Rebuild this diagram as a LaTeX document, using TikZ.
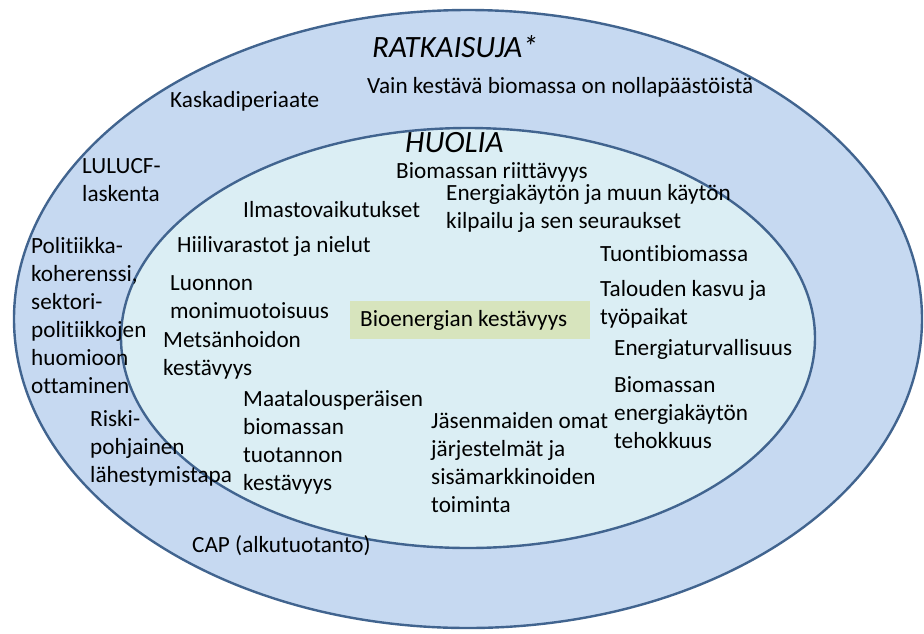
\documentclass[tikz,border=0pt]{standalone}
\usepackage{fontspec}
\setmainfont{Carlito}[Ligatures={NoCommon}]
\definecolor{outerfill}{HTML}{C6D9F1}
\definecolor{innerfill}{HTML}{DBEEF4}
\definecolor{ringline}{HTML}{41648F}
\definecolor{hibox}{HTML}{D7E4BD}
\begin{document}
\begin{tikzpicture}[x=1pt,y=-1pt,
  ring/.style={draw=ringline,line width=2.4pt},
  lbl/.style={anchor=west,inner sep=0pt,align=left,font=\fontsize{23.2}{28}\selectfont},
  ttl/.style={anchor=west,inner sep=0pt,font=\fontsize{31}{36}\selectfont\itshape}]
\useasboundingbox[fill=white] (0,0) rectangle (924,633);
\path[ring,fill=outerfill] (468,319) ellipse [x radius=454,y radius=309];
\path[ring,fill=innerfill] (468,338) ellipse [x radius=347,y radius=210];
\node[fill=hibox,minimum width=240pt,minimum height=38pt,anchor=west,inner sep=0pt] (hb) at (350,320) {};
\node[ttl] (rat) at (372,47) {RATKAISUJA*};
\node[ttl] (huo) at (405,143) {HUOLIA};
\node[lbl] (vain) at (367,87) {Vain kestävä biomassa on nollapäästöistä};
\node[lbl] (kask) at (170,101) {Kaskadiperiaate};
\node[lbl] (lulu) at (82,180) {LULUCF-\\laskenta};
\node[lbl] (poli) at (31,316) {Politiikka-\\koherenssi,\\sektori-\\politiikkojen\\huomioon\\ottaminen};
\node[lbl] (risk) at (90,448) {Riski-\\pohjainen\\lähestymistapa};
\node[lbl] (cap) at (192,546) {CAP (alkutuotanto)};
\node[lbl] (riit) at (396,172) {Biomassan riittävyys};
\node[lbl] (kilp) at (446,208) {Energiakäytön ja muun käytön\\kilpailu ja sen seuraukset};
\node[lbl] (ilma) at (243,210) {Ilmastovaikutukset};
\node[lbl] (hiil) at (177,246) {Hiilivarastot ja nielut};
\node[lbl] (luon) at (170,297) {Luonnon\\monimuotoisuus};
\node[lbl] (mets) at (163,355) {Metsänhoidon\\kestävyys};
\node[lbl] (tuon) at (600,254) {Tuontibiomassa};
\node[lbl] (talo) at (600,304) {Talouden kasvu ja\\työpaikat};
\node[lbl] (bioe) at (360,320) {Bioenergian kestävyys};
\node[lbl] (turv) at (614,349) {Energiaturvallisuus};
\node[lbl] (teho) at (614,413) {Biomassan\\energiakäytön\\tehokkuus};
\node[lbl] (maat) at (243,442) {Maatalousperäisen\\biomassan\\tuotannon\\kestävyys};
\node[lbl] (jase) at (431,463) {Jäsenmaiden omat\\järjestelmät ja\\sisämarkkinoiden\\toiminta};
\end{tikzpicture}
\end{document}
